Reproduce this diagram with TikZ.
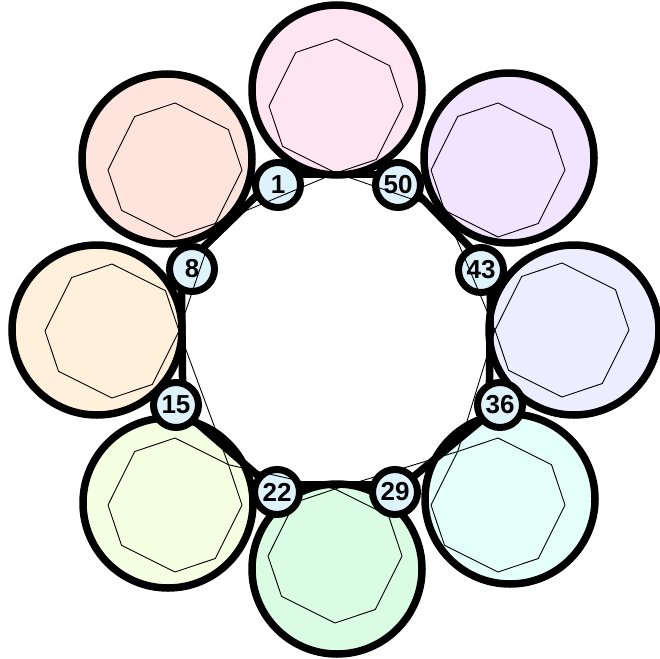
\documentclass[tikz,border=0pt]{standalone}
\usepackage{fontspec}
\setmainfont{Liberation Sans}
\definecolor{pinkF}{RGB}{255,228,242}
\definecolor{lavF}{RGB}{240,228,255}
\definecolor{blueF}{RGB}{236,238,255}
\definecolor{cyanF}{RGB}{228,255,250}
\definecolor{greenF}{RGB}{218,252,226}
\definecolor{limeF}{RGB}{245,255,226}
\definecolor{orangeF}{RGB}{255,240,220}
\definecolor{salmonF}{RGB}{255,228,222}
\definecolor{hubF}{RGB}{222,242,252}
\pgfdeclarelayer{bg}
\pgfdeclarelayer{edgelayer}
\pgfdeclarelayer{fg}
\pgfsetlayers{bg,edgelayer,main,fg}
\newcommand\octa[2]{%
  \begin{scope}[shift={#2}]
    \coordinate (#1-0) at (67,0);
    \coordinate (#1-37) at (53.5,-40.3);
    \coordinate (#1-90) at (0,-67);
    \coordinate (#1-127) at (-40.3,-53.5);
    \coordinate (#1-180) at (-67,0);
    \coordinate (#1-217) at (-53.5,40.3);
    \coordinate (#1-270) at (0,67);
    \coordinate (#1-307) at (40.3,53.5);
  \end{scope}
  \draw[thinline] (#1-0) -- (#1-37) -- (#1-90) -- (#1-127) -- (#1-180) -- (#1-217) -- (#1-270) -- (#1-307) -- cycle;
}
\begin{document}
\begin{tikzpicture}[x=1pt,y=-1pt,
  big/.style={circle,draw=black,line width=7.5pt,minimum size=170pt,inner sep=0pt,outer sep=0pt},
  hub/.style={circle,draw=black,line width=7pt,minimum size=45pt,inner sep=0pt,outer sep=0pt,fill=hubF,
    font=\bfseries\fontsize{26}{26}\selectfont},
  thickedge/.style={line width=7.5pt},
  thinline/.style={line width=0.9pt,line join=miter}]
\useasboundingbox (0,0) rectangle (660,658);
% big circles
\begin{pgfonlayer}{bg}
\node[big,fill=pinkF]   (cP) at (337,90)  {};
\node[big,fill=lavF]    (cL) at (509,158) {};
\node[big,fill=blueF]   (cB) at (574,330) {};
\node[big,fill=cyanF]   (cC) at (510,499) {};
\node[big,fill=greenF]  (cG) at (337,569) {};
\node[big,fill=limeF]   (cM) at (168,503) {};
\node[big,fill=orangeF] (cO) at (97,330)  {};
\node[big,fill=salmonF] (cS) at (167,159) {};
\end{pgfonlayer}
% hubs
\node[hub] (n1) at (278,185) {1};
\node[hub] (n50) at (398,185) {50};
\node[hub] (n8) at (192,269) {8};
\node[hub] (n43) at (481,270) {43};
\node[hub] (n15) at (176,405) {15};
\node[hub] (n36) at (500,405) {36};
\node[hub] (n22) at (277,492) {22};
\node[hub] (n29) at (395,492) {29};
% thick edges
\begin{pgfonlayer}{edgelayer}
\draw[thickedge] (n1.28) -- (n50.152);
\draw[thickedge] (n50.335) -- (n43.114);
\draw[thickedge] (n43.295) -- (n36.118);
\draw[thickedge] (n36) -- (n29);
\draw[thickedge] (n29.160) -- (n22.20);
\draw[thickedge] (n22) -- (n15);
\draw[thickedge] (n15.73) -- (n8.242);
\draw[thickedge] (n8.64) -- (n1.205);
\end{pgfonlayer}
% thin lines
\begin{pgfonlayer}{fg}
\octa{P}{(336,106)}
\octa{L}{(498,170)}
\octa{B}{(562,330)}
\octa{C}{(498,505)}
\octa{G}{(335,556)}
\octa{M}{(175,505)}
\octa{O}{(112,331)}
\octa{S}{(175,170)}
\draw[thinline] (P-270) -- (L-217) -- (B-180) -- (C-127) -- (G-90) -- (M-37) -- (O-0) -- (S-307) -- cycle;
\end{pgfonlayer}
\end{tikzpicture}
\end{document}
